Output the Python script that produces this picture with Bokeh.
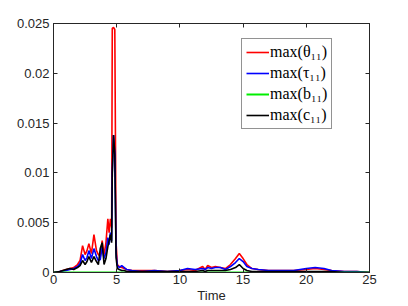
from bokeh.plotting import figure
from bokeh.models import Range1d, FixedTicker, LinearAxis, Legend, LegendItem
from bokeh.embed import file_html
from bokeh.resources import INLINE

time = [0, 0.5, 1.0, 1.3, 1.6, 1.9, 2.1, 2.3, 2.5, 2.65, 2.8, 3.0, 3.2, 3.4, 3.55, 3.7,
        3.85, 4.0, 4.15, 4.3, 4.4, 4.5, 4.6, 4.65, 4.75, 4.85, 4.95, 5.05, 5.2, 5.4, 5.6,
        5.8, 6.2, 7, 8, 9, 10, 10.6, 11.2, 11.8, 12.0, 12.2, 12.5, 12.8, 13.2, 13.6, 14.0,
        14.4, 14.7, 15.0, 15.3, 15.7, 16.2, 17, 18, 19, 20, 20.7, 21.4, 22, 23, 24, 25]

theta = [0, 0.0001, 0.0003, 0.0004, 0.0005, 0.0008, 0.0012, 0.0027, 0.0018, 0.0022, 0.0029,
         0.0019, 0.0038, 0.0022, 0.0018, 0.0016, 0.0032, 0.0018, 0.0030, 0.0054, 0.0040,
         0.0054, 0.0045, 0.0245, 0.0246, 0.0244, 0.0030, 0.0008, 0.0006, 0.0005, 0.0004,
         0.0003, 0.0002, 0.0002, 0.0002, 0.0001, 0.0002, 0.0003, 0.0002, 0.0006, 0.0003,
         0.0007, 0.0005, 0.0006, 0.0005, 0.0004, 0.0008, 0.0014, 0.0019, 0.0014, 0.0008,
         0.0004, 0.0003, 0.0002, 0.0002, 0.0002, 0.0003, 0.0004, 0.0003, 0.0002, 0.0001,
         0.0001, 0.0]

tau = [0, 0.0001, 0.0002, 0.0003, 0.0004, 0.0006, 0.0009, 0.0018, 0.0012, 0.0015, 0.0022,
       0.0014, 0.0024, 0.0016, 0.0012, 0.0013, 0.0026, 0.0014, 0.0020, 0.0035, 0.0028,
       0.0040, 0.0032, 0.0100, 0.0138, 0.0120, 0.0020, 0.0007, 0.0005, 0.0007, 0.0005,
       0.0003, 0.0002, 0.0001, 0.0002, 0.0001, 0.0002, 0.0004, 0.0003, 0.0004, 0.0003,
       0.0005, 0.0004, 0.0005, 0.0005, 0.0003, 0.0006, 0.0010, 0.0014, 0.0011, 0.0006,
       0.0004, 0.0003, 0.0002, 0.0002, 0.0002, 0.0004, 0.0005, 0.0004, 0.0002, 0.0001,
       0.0001, 0.0]

c11 = [0, 0.0001, 0.0003, 0.0004, 0.0003, 0.0005, 0.0007, 0.0012, 0.0008, 0.0011, 0.0016,
       0.0010, 0.0016, 0.0011, 0.0008, 0.0024, 0.0030, 0.0008, 0.0014, 0.0026, 0.0032,
       0.0038, 0.0030, 0.0100, 0.0138, 0.0118, 0.0015, 0.0004, 0.0003, 0.0002, 0.0002,
       0.0001, 0.0001, 0.0001, 0.0001, 0.0001, 0.0001, 0.0001, 0.0001, 0.0002, 0.0001,
       0.0002, 0.0002, 0.0002, 0.0002, 0.0002, 0.0003, 0.0005, 0.0008, 0.0004, 0.0002,
       0.0001, 0.0001, 0.0001, 0.0001, 0.0001, 0.0001, 0.0001, 0.0001, 0.0001, 0.0,
       0.0, 0.0]

b_time = [0, 25]
b11 = [0.0, 0.0]

labels = ["max(θ₁₁)", "max(τ₁₁)", "max(b₁₁)", "max(c₁₁)"]
x_ticks = [0, 5, 10, 15, 20, 25]
y_ticks = [0, 0.005, 0.01, 0.015, 0.02, 0.025]
y_tick_labels = ["0", "0.005", "0.01", "0.015", "0.02", "0.025"]

TICK_FONT = "Liberation Sans"
TICK_COLOR = "#262626"

p = figure(width=408, height=306, output_backend="svg", toolbar_location=None,
           x_range=Range1d(0, 25), y_range=Range1d(0, 0.025),
           min_border_left=53, min_border_right=39, min_border_top=23, min_border_bottom=34)
p.xgrid.visible = False
p.ygrid.visible = False
p.outline_line_color = TICK_COLOR
p.outline_line_width = 1

r1 = p.line(time, theta, line_color="#ff0000", line_width=1.6)
r2 = p.line(time, tau, line_color="#0000ff", line_width=1.6)
r3 = p.line(b_time, b11, line_color="#00ee00", line_width=2)
r4 = p.line(time, c11, line_color="#000000", line_width=1.6)

def style_axis(ax, ticks):
    ax.ticker = FixedTicker(ticks=ticks)
    ax.major_tick_in = 4
    ax.major_tick_out = 0
    ax.minor_tick_in = 0
    ax.minor_tick_out = 0
    ax.axis_line_color = TICK_COLOR
    ax.major_tick_line_color = TICK_COLOR
    ax.major_label_text_font = TICK_FONT
    ax.major_label_text_font_size = "13px"
    ax.major_label_text_color = TICK_COLOR
    ax.major_label_standoff = 3

xa = p.xaxis[0]
ya = p.yaxis[0]
style_axis(xa, x_ticks)
style_axis(ya, y_ticks)
xa.axis_label = "Time"
xa.axis_label_text_font = TICK_FONT
xa.axis_label_text_font_size = "13px"
xa.axis_label_text_font_style = "normal"
xa.axis_label_text_color = TICK_COLOR
xa.axis_label_standoff = 1
xa.major_label_standoff = 2
ya.major_label_overrides = {t: l for t, l in zip(y_ticks, y_tick_labels)}
ya.major_label_standoff = 4

top = LinearAxis()
right = LinearAxis()
p.add_layout(top, "above")
p.add_layout(right, "right")
style_axis(top, x_ticks)
style_axis(right, y_ticks)
top.major_label_overrides = {t: "" for t in x_ticks}
right.major_label_overrides = {t: "" for t in y_ticks}
top.major_label_standoff = 0
right.major_label_standoff = 0

legend = Legend(items=[LegendItem(label=labels[0], renderers=[r1]),
                       LegendItem(label=labels[1], renderers=[r2]),
                       LegendItem(label=labels[2], renderers=[r3]),
                       LegendItem(label=labels[3], renderers=[r4])],
                location=(188, 143))
legend.label_text_font = "Liberation Serif"
legend.label_text_font_size = "16px"
legend.label_text_color = "#000000"
legend.glyph_width = 23
legend.glyph_height = 18
legend.label_height = 18
legend.label_standoff = 1
legend.spacing = 3
legend.padding = 4
legend.margin = 0
legend.border_line_color = "#262626"
legend.border_line_width = 1
legend.background_fill_color = "white"
legend.background_fill_alpha = 1
p.add_layout(legend, "center")

open("out.html", "w").write(file_html(p, INLINE))
